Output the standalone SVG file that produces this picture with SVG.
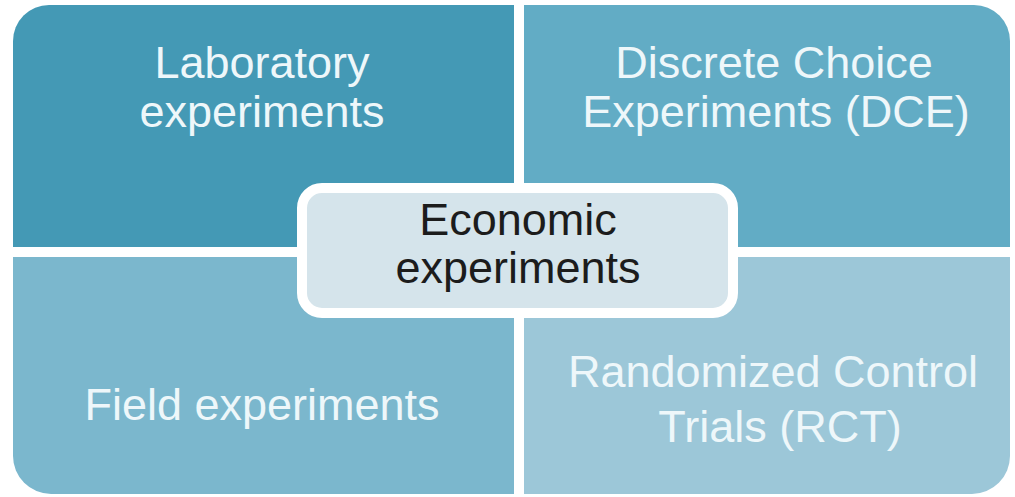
<svg xmlns="http://www.w3.org/2000/svg" width="1015" height="497" viewBox="0 0 1015 497">
  <style>
    .lbl { font-family: "Liberation Sans", Arial, sans-serif; font-size: 45px; text-anchor: middle; fill: #eef7fa; }
    .ctr { font-family: "Liberation Sans", Arial, sans-serif; font-size: 45px; text-anchor: middle; fill: #1c1c1c; }
  </style>
  <rect width="1015" height="497" fill="#ffffff"/>
  <g id="laboratory">
    <path d="M13,41 A36,36 0 0 1 49,5 H514 V247 H13 Z" fill="#4499b5"/>
    <text class="lbl" x="262" y="78">Laboratory</text>
    <text class="lbl" x="262" y="127">experiments</text>
  </g>
  <g id="dce">
    <path d="M524,5 H974 A36,36 0 0 1 1010,41 V247 H524 Z" fill="#62acc5"/>
    <text class="lbl" x="774" y="78">Discrete Choice</text>
    <text class="lbl" x="776" y="127">Experiments (DCE)</text>
  </g>
  <g id="field">
    <path d="M13,257 H514 V494 H51 A38,38 0 0 1 13,456 Z" fill="#7bb7cd"/>
    <text class="lbl" x="262" y="420">Field experiments</text>
  </g>
  <g id="rct">
    <path d="M524,257 H1010 V456 A38,38 0 0 1 972,494 H524 Z" fill="#9cc7d8"/>
    <text class="lbl" x="773" y="387">Randomized Control</text>
    <text class="lbl" x="780" y="442">Trials (RCT)</text>
  </g>
  <g id="economic">
    <rect x="302" y="188" width="431" height="125" rx="20" ry="20" fill="#d5e4eb" stroke="#ffffff" stroke-width="10"/>
    <text class="ctr" x="518" y="235">Economic</text>
    <text class="ctr" x="518" y="283">experiments</text>
  </g>
</svg>
